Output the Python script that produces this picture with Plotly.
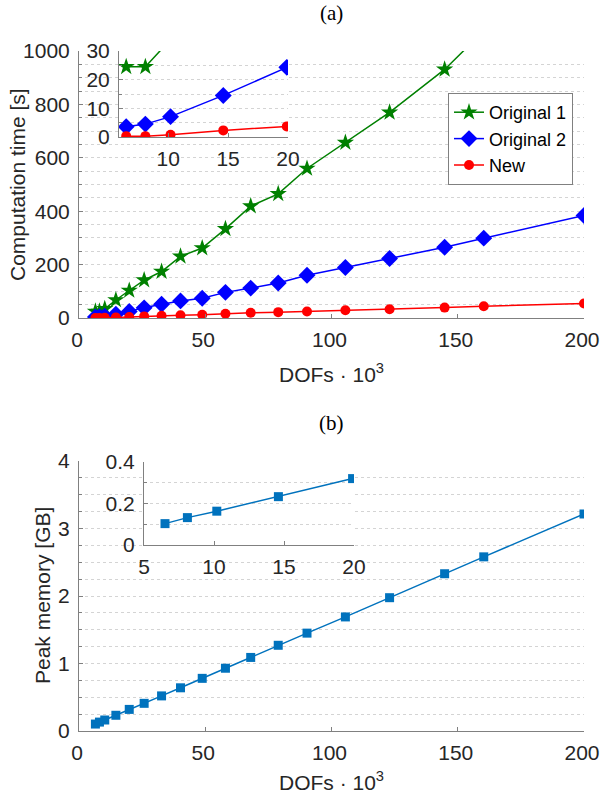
import plotly.graph_objects as go

# DOFs (x 10^3) shared by all series
dofs = [6.5, 8.1, 10.2, 14.6, 19.9, 25.8, 32.7, 40.2, 48.8, 58.0, 68.0, 78.9,
        90.3, 105.5, 123.0, 144.8, 160.3, 200.0]

# (a) computation time [s]
orig1 = [24.5, 24.5, 34, 67.5, 103, 142, 174, 231, 262, 334, 419, 465,
         560, 657, 770, 931, 1075, 1480]
orig2 = [3.6, 4.5, 7.1, 14.5, 24.3, 38, 51.5, 64, 74, 96, 112, 131,
         160, 189, 223, 265, 299, 384]
new = [0.3, 0.3, 0.8, 2.3, 3.7, 6, 8.6, 10, 12, 16, 19.6, 22,
       24.5, 29, 33, 39, 44, 54]

# (b) peak memory [GB]
memory = [0.103, 0.132, 0.163, 0.233, 0.32, 0.41, 0.52, 0.64, 0.78, 0.93, 1.09, 1.27,
          1.45, 1.69, 1.975, 2.33, 2.58, 3.215]

inset_n = 5  # first points shown in the insets

GREEN = "#008000"
BLUE = "#0000ff"
RED = "#ff0000"
MEM = "#0072bd"
AXIS = "#808080"
GRID = "#d4d4d4"
TXT = "#262626"
FONT = "Liberation Sans, Arial, sans-serif"
SERIF = "Liberation Serif, Times New Roman, serif"
FS = 21

W, H = 600, 795


def fx(px):
    return px / W


def fy(py):
    return 1 - py / H


fig = go.Figure()

series = [
    ("Original 1", orig1, GREEN, "star", 13),
    ("Original 2", orig2, BLUE, "diamond", 13),
    ("New", new, RED, "circle", 10),
]

# main (a)
for name, ys, col, sym, size in series:
    fig.add_trace(go.Scatter(
        x=dofs, y=ys, name=name, mode="lines+markers",
        line=dict(color=col, width=1.5),
        marker=dict(symbol=sym, size=size, color=col),
        xaxis="x", yaxis="y",
    ))

# inset (a)
for name, ys, col, sym, size in series:
    fig.add_trace(go.Scatter(
        x=dofs[:inset_n + 1], y=ys[:inset_n + 1], name=name, mode="lines+markers",
        line=dict(color=col, width=1.5),
        marker=dict(symbol=sym, size=size, color=col),
        xaxis="x2", yaxis="y2", showlegend=False,
    ))

# main (b)
fig.add_trace(go.Scatter(
    x=dofs, y=memory, mode="lines+markers", showlegend=False,
    line=dict(color=MEM, width=1.5),
    marker=dict(symbol="square", size=9, color=MEM),
    xaxis="x3", yaxis="y3",
))

# inset (b)
fig.add_trace(go.Scatter(
    x=dofs[:inset_n], y=memory[:inset_n], mode="lines+markers", showlegend=False,
    line=dict(color=MEM, width=1.5),
    marker=dict(symbol="square", size=9, color=MEM),
    xaxis="x4", yaxis="y4",
))


def ax(domain, rng, dtick=None, tickvals=None, minor=None, grid=False, anchor=None,
       labelpad=0, shift=0):
    d = dict(
        domain=domain, range=rng, showline=True, linecolor=AXIS, linewidth=1,
        ticks="inside", ticklen=4, tickcolor=AXIS, zeroline=False, automargin=False,
        showgrid=grid, gridcolor=GRID, griddash="dot", gridwidth=1,
        tickfont=dict(size=FS, color=TXT), anchor=anchor,
        ticklabeloverflow="allow", ticklabelstandoff=labelpad, ticklabelshift=shift,
    )
    if dtick is not None:
        d["dtick"] = dtick
        d["tick0"] = 0
    if tickvals is not None:
        d["tickvals"] = tickvals
    if minor is not None:
        d["minor"] = dict(dtick=minor, tick0=0, ticks="inside", ticklen=3, tickcolor=AXIS,
                          showgrid=grid, gridcolor=GRID, griddash="dot", gridwidth=1)
    return d


xlab = "DOFs · 10<sup>3</sup>"
main_x = [fx(79), fx(584)]


def label(text, x, y, family=FONT, color=TXT, angle=0):
    return dict(text=text, x=fx(x), y=fy(y), xref="paper", yref="paper",
                xanchor="center", yanchor="middle", showarrow=False, textangle=angle,
                font=dict(family=family, size=FS, color=color))


fig.update_layout(
    width=W, height=H,
    margin=dict(l=0, r=0, t=0, b=0),
    paper_bgcolor="white", plot_bgcolor="white",
    font=dict(family=FONT, size=FS, color=TXT),
    xaxis=ax(main_x, [0, 200], dtick=50, anchor="y", labelpad=3, shift=-2),
    yaxis=ax([fy(318), fy(51)], [0, 1000], dtick=200, minor=50, grid=True, anchor="x", labelpad=4),
    xaxis2=ax([fx(119), fx(288)], [5.9, 20], tickvals=[10, 15, 20], anchor="y2", labelpad=3),
    yaxis2=ax([fy(137), fy(51)], [0, 30], dtick=10, minor=5, grid=True, anchor="x2", labelpad=4),
    xaxis3=ax(main_x, [0, 200], dtick=50, anchor="y3", labelpad=3, shift=-2),
    yaxis3=ax([fy(731), fy(461)], [0, 4], dtick=1, minor=0.25, grid=True, anchor="x3", labelpad=4),
    xaxis4=ax([fx(144), fx(354)], [5, 20], dtick=5, anchor="y4", labelpad=3),
    yaxis4=ax([fy(545), fy(462)], [0, 0.4], dtick=0.2, minor=0.1, grid=True, anchor="x4", labelpad=4),
    legend=dict(
        x=fx(448), y=fy(93), xanchor="left", yanchor="top",
        bgcolor="white", bordercolor=AXIS, borderwidth=1,
        font=dict(size=18, color="black"), tracegroupgap=0,
    ),
    annotations=[
        label("(a)", 331, 13, family=SERIF, color="black"),
        label("(b)", 331, 423, family=SERIF, color="black"),
        label(xlab, 331, 373),
        label(xlab, 331, 781),
        label("Computation time [s]", 18, 185, angle=-90),
        label("Peak memory [GB]", 42, 596, angle=-90),
    ],
)

# drop the default body margin so the figure fills the window exactly
fig.write_html("out.html", config={"displayModeBar": False},
               post_script="document.body.style.margin='0';")
